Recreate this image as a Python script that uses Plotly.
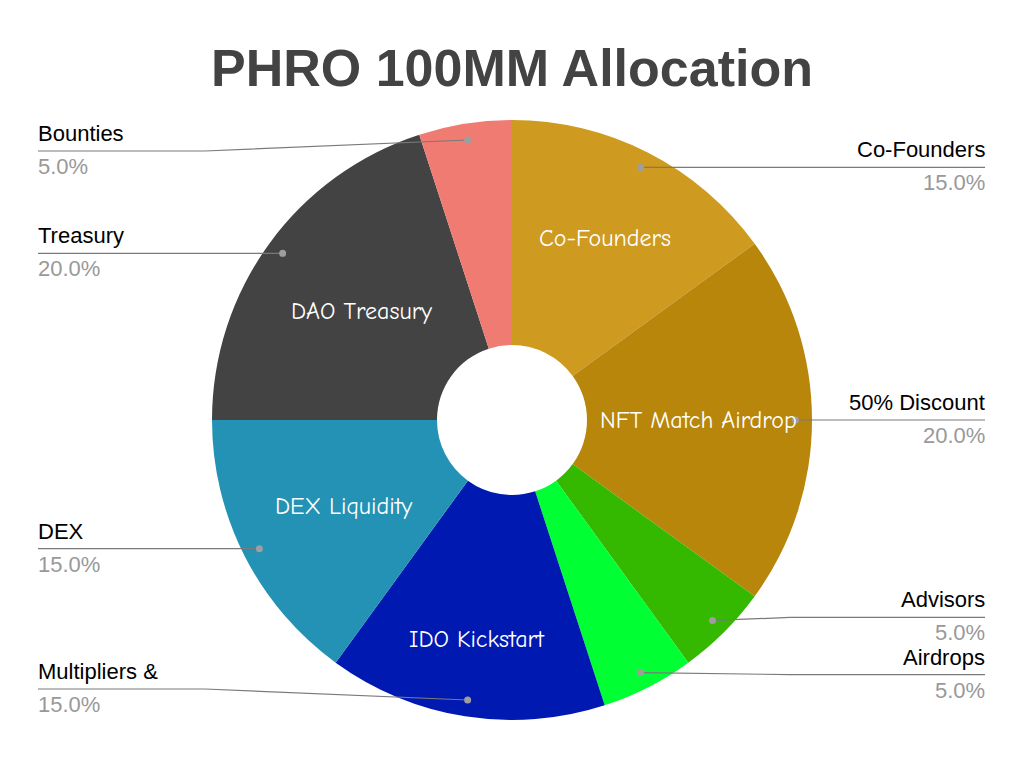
import math
import plotly.graph_objects as go

# data
slices = ["Co-Founders", "NFT Match Airdrop", "Advisors", "Airdrops",
          "IDO Kickstart", "DEX Liquidity", "DAO Treasury", "Bounties"]
outer_names = ["Co-Founders", "50% Discount", "Advisors", "Airdrops",
               "Multipliers &", "DEX", "Treasury", "Bounties"]
inside_text = ["Co-Founders", "NFT Match Airdrop", "", "",
               "IDO Kickstart", "DEX Liquidity", "DAO Treasury", ""]
shares = [15, 20, 5, 5, 15, 15, 20, 5]
colors = ["#CE9A1F", "#B8860B", "#34B800", "#00FF33",
          "#0019B1", "#2492B4", "#434343", "#F07B72"]

# page geometry (px); the page body adds an 8px margin
W, H = 1024, 759
OFF = 8
cx, cy, R = 512, 420, 300
inner_r = [0.68, 0.62, 0, 0, 0.74, 0.63, 0.62, 0]   # where the white labels sit
label_dy = [0, 0, -3, 2, -11, 0, 0, 11]               # nudges to keep outer labels apart
left_x, right_x = 38, 985
elbow_left, elbow_right = 205, 790


def px(x):
    return (x - OFF) / W


def py(y):
    return 1 - (y - OFF) / H


fig = go.Figure(go.Pie(
    labels=slices,
    values=shares,
    sort=False,
    direction="clockwise",
    rotation=0,
    hole=0.25,
    marker=dict(colors=colors, line=dict(width=0)),
    textinfo="none",
    hoverinfo="label+percent",
    domain=dict(x=[px(cx - R), px(cx + R)], y=[py(cy + R), py(cy - R)]),
    showlegend=False,
))

annotations = []
shapes = []
total = sum(shares)
start = 0.0
for i, v in enumerate(shares):
    mid = (start + v / 2) / total * 2 * math.pi
    start += v
    s, c = math.sin(mid), math.cos(mid)

    # white label inside the slice
    if inside_text[i]:
        annotations.append(dict(
            x=px(cx + inner_r[i] * R * s), y=py(cy - inner_r[i] * R * c),
            xref="paper", yref="paper", xanchor="center", yanchor="middle",
            text=inside_text[i], showarrow=False,
            font=dict(family="Comic Sans MS, Comic Neue, Lato", size=24, color="white"),
        ))

    # leader line + outer label
    dx, dy = cx + 0.945 * R * s, cy - 0.945 * R * c
    ly = dy + label_dy[i]
    right = s > 0
    edge = right_x if right else left_x
    elbow = max(elbow_right, dx) if right else min(elbow_left, dx)
    shapes.append(dict(
        type="path", xref="paper", yref="paper",
        path=f"M {px(edge)},{py(ly)} L {px(elbow)},{py(ly)} L {px(dx)},{py(dy)}",
        line=dict(color="#7a7a7a", width=1.2),
    ))
    shapes.append(dict(
        type="circle", xref="paper", yref="paper",
        x0=px(dx - 3.5), x1=px(dx + 3.5), y0=py(dy + 3.5), y1=py(dy - 3.5),
        fillcolor="#9e9e9e", line=dict(width=0),
    ))
    anchor = "right" if right else "left"
    text_x = edge + 2 if right else edge - 2
    annotations.append(dict(
        x=px(text_x), y=py(ly - 3), xref="paper", yref="paper", xanchor=anchor,
        yanchor="bottom", text=outer_names[i], showarrow=False,
        font=dict(family="Arial, Liberation Sans", size=22, color="#000000"),
    ))
    annotations.append(dict(
        x=px(text_x), y=py(ly + 1), xref="paper", yref="paper", xanchor=anchor,
        yanchor="top", text=f"{v / total * 100:.1f}%", showarrow=False,
        font=dict(family="Arial, Liberation Sans", size=22, color="#999999"),
    ))

annotations.append(dict(
    x=px(512), y=py(68), xref="paper", yref="paper", xanchor="center",
    yanchor="middle", showarrow=False,
    text="<b>PHRO 100MM Allocation</b>",
    font=dict(family="Arial, Liberation Sans", size=52, color="#434343"),
))

fig.update_layout(
    width=W, height=H,
    margin=dict(l=0, r=0, t=0, b=0),
    paper_bgcolor="white",
    annotations=annotations,
    shapes=shapes,
)

fig.write_html("out.html")
